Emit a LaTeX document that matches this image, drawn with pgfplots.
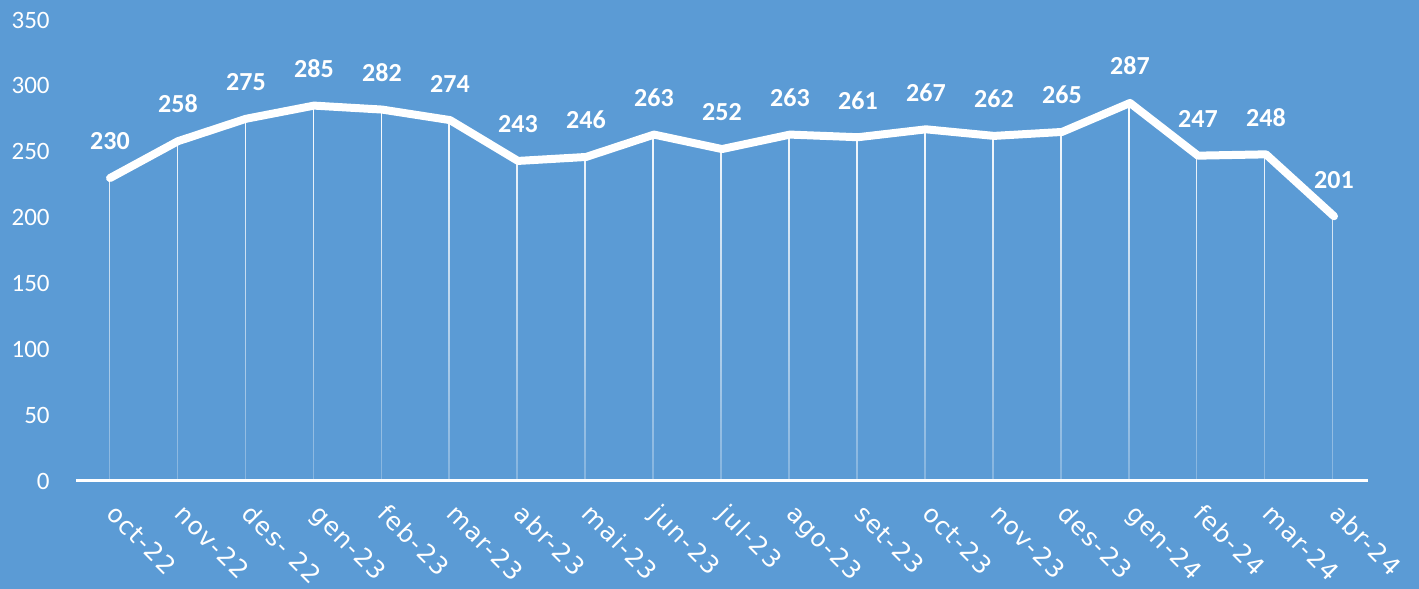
\documentclass[border=0pt]{standalone}
\usepackage{pgfplots}
\pgfplotsset{compat=1.18}
\usepackage{fontspec}
\setmainfont{Carlito}
\newfontfamily\xfont[LetterSpace=6]{DejaVu Sans}
\usetikzlibrary{fadings}
\definecolor{bg}{RGB}{91,155,213}
\tikzfading[name=dropfade, top color=transparent!0, bottom color=transparent!75]
\pgfplotstableread{
x y
0 230
1 258
2 275
3 285
4 282
5 274
6 243
7 246
8 263
9 252
10 263
11 261
12 267
13 262
14 265
15 287
16 247
17 248
18 201
}\datatable
\begin{document}
\begin{tikzpicture}
\fill[bg] (0pt,0pt) rectangle (709.5pt,294.5pt);
\begin{axis}[
  at={(38pt,54pt)}, anchor=south west,
  scale only axis, width=646pt, height=230.5pt,
  xmin=-0.5, xmax=18.5, ymin=0, ymax=350,
  clip=false,
  axis x line*=bottom, axis y line*=left,
  x axis line style={white, line width=1.5pt, -},
  y axis line style={draw=none},
  major tick length=0pt,
  tick style={draw=none},
  /pgf/number format/assume math mode=true,
  ytick={0,50,...,350},
  yticklabel style={white, inner sep=0pt, xshift=-13pt, font=\fontsize{12.5}{14}\selectfont},
  xtick={0,...,18},
  xticklabels={oct-22,nov-22,des- 22,gen-23,feb-23,mar-23,abr-23,mai-23,jun-23,jul-23,ago-23,set-23,oct-23,nov-23,des-23,gen-24,feb-24,mar-24,abr-24},
  xticklabel style={white, xshift=4pt, yshift=-10.5pt, rotate=-45, anchor=north west, inner sep=0pt, font=\xfont\fontsize{12.3}{14}\selectfont},
]
\addplot[ycomb, white, line width=0.8pt, no markers, path fading=dropfade] table[x=x,y=y] {\datatable};
\addplot[white, line width=4pt, line join=round, line cap=round, no markers,
  nodes near coords,
  nodes near coords style={white, font=\bfseries\fontsize{13}{15}\selectfont, anchor=south, inner sep=0pt, yshift=12pt}]
  table[x=x,y=y] {\datatable};
\end{axis}
\end{tikzpicture}
\end{document}
